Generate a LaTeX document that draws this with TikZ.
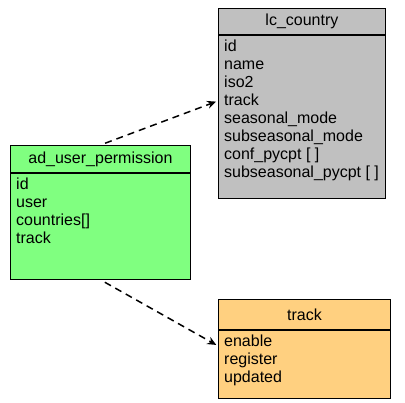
\documentclass[tikz,border=0pt]{standalone}
\usepackage{fontspec}
\setmainfont{Liberation Sans}
\usepackage{tikz}
\usetikzlibrary{arrows.meta,positioning,calc}
\definecolor{countrygray}{RGB}{192,192,192}
\definecolor{permgreen}{RGB}{128,255,128}
\definecolor{trackorange}{RGB}{255,208,128}

\begin{document}
\begin{tikzpicture}[
    x=1pt, y=-1pt,
    hdr/.style={draw, line width=0.9pt, inner sep=0pt, anchor=north west, font=\fontsize{16}{18}\selectfont},
    fieldbox/.style={draw, line width=0.9pt, inner sep=0pt, anchor=north west},
    fields/.style={anchor=north west, align=left, inner xsep=6pt, inner ysep=5pt, font=\fontsize{16}{18}\selectfont},
    arrow/.style={-{Stealth[length=9pt, width=8pt, inset=3pt]}, line width=1.5pt, dash pattern=on 7pt off 5pt}
]
    \useasboundingbox (0,0) rectangle (405,403);

    % Boxes
    \node[hdr, fill=countrygray, minimum width=167pt, minimum height=26pt] (country) at (218,8) {lc\_country};
    \node[fieldbox, fill=countrygray, minimum width=167pt, minimum height=163pt] (countryfields) at (country.south west) {};
    \node[fields] (countrytext) at (countryfields.north west) {id\\name\\iso2\\track\\seasonal\_mode\\subseasonal\_mode\\conf\_pycpt [ ]\\subseasonal\_pycpt [ ]};

    \node[hdr, fill=permgreen, minimum width=180pt, minimum height=27pt] (perm) at (10,145) {ad\_user\_permission};
    \node[fieldbox, fill=permgreen, minimum width=180pt, minimum height=106pt] (permfields) at (perm.south west) {};
    \node[fields] (permtext) at (permfields.north west) {id\\user\\countries[]\\track};

    \node[hdr, fill=trackorange, minimum width=172pt, minimum height=30pt] (track) at (218,299) {track};
    \node[fieldbox, fill=trackorange, minimum width=172pt, minimum height=68pt] (trackfields) at (track.south west) {};
    \node[fields] (tracktext) at (trackfields.north west) {enable\\register\\updated};

    % Arrows
    \draw[arrow, shorten <=5pt, shorten >=2pt] (perm.north) -- ($(countryfields.north west)+(0,66)$);
    \draw[arrow, shorten <=5pt, shorten >=2pt] (permfields.south) -- ($(trackfields.north west)+(0,16)$);
\end{tikzpicture}
\end{document}
